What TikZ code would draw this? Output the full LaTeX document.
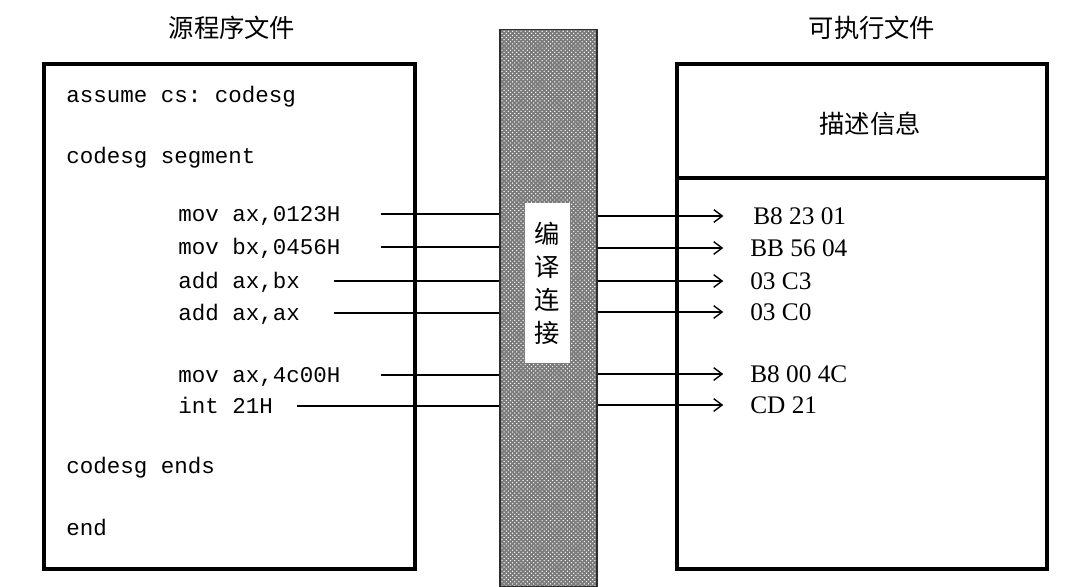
\documentclass[tikz,border=0pt]{standalone}
\usepackage{fontspec}
\setmainfont{Liberation Serif}
\setmonofont{Liberation Mono}
\newfontfamily\cjk{Noto Sans CJK SC}
\usetikzlibrary{arrows.meta,patterns}

\begin{document}
\begin{tikzpicture}[
    x=0.025cm, y=-0.025cm,
    filebox/.style={draw=black, line width=2.4pt, minimum width=9.25cm},
    code/.style={anchor=west, inner sep=0pt, text height=12pt, text depth=2pt,
                 font=\fontsize{16}{19}\selectfont\ttfamily},
    byte/.style={anchor=west, inner sep=0pt, text height=12pt, text depth=0pt,
                 font=\fontsize{18}{21}\selectfont},
    title/.style={font=\fontsize{18}{21}\selectfont\cjk},
    stripe/.style={draw=gray!35!black, line width=0.8pt,
                   preaction={fill=black!52}, pattern=crosshatch dots, pattern color=white,
                   minimum width=2.425cm, minimum height=13.9cm},
    feed/.style={line width=1.5pt},
    emit/.style={line width=1.5pt, shorten >=19pt,
                 -{Straight Barb[length=6pt, width=9pt, line width=1pt]}},
]
\useasboundingbox (0,0) rectangle (1079,586);

% ---- 标题 ----
\node[title] (srctitle) at (232,28) {源程序文件};
\node[title] (exetitle) at (872,28) {可执行文件};

% ---- 文件框 ----
\node[filebox, minimum width=9.275cm, minimum height=12.625cm] (src) at (229.5,316.5) {};
\node[filebox, minimum height=2.85cm] (info) at (862,121) {};
\node[filebox, minimum height=9.775cm] (body) at (862,373.5) {};
\node[title] (infotext) at (870,124) {描述信息};

% ---- 编译连接 ----
\node[stripe] (link) at (548.5,308) {};
\node[fill=white, minimum width=1.125cm, minimum height=4cm, align=center,
      font=\fontsize{18}{23.5}\selectfont\cjk] (linklbl) at (547.5,283) {编\\译\\连\\接};

% ---- 源程序 ----
\node[code] (l1) at (66,95)  {assume cs: codesg};
\node[code] (l2) at (66,156) {codesg segment};
\node[code] (m1) at (178,214) {mov ax,0123H};
\node[code] (m2) at (178,247) {mov bx,0456H};
\node[code] (m3) at (178,281) {add ax,bx};
\node[code] (m4) at (178,313) {add ax,ax};
\node[code] (m5) at (178,375) {mov ax,4c00H};
\node[code] (m6) at (178,406) {int 21H};
\node[code] (l3) at (66,466) {codesg ends};
\node[code] (l4) at (66,528) {end};

% ---- 机器码 ----
\node[byte] (b1) at (753,216) {B8 23 01};
\node[byte] (b2) at (750,248) {BB 56 04};
\node[byte] (b3) at (750,281) {03 C3};
\node[byte] (b4) at (750,312) {03 C0};
\node[byte] (b5) at (750,374) {B8 00 4C};
\node[byte] (b6) at (750,405) {CD 21};

% ---- 连线 ----
\draw[feed] ([xshift=1cm]m1.east)    -- (m1.east -| link.west);
\draw[feed] ([xshift=1cm]m2.east)    -- (m2.east -| link.west);
\draw[feed] ([xshift=0.85cm]m3.east) -- (m3.east -| link.west);
\draw[feed] ([xshift=0.85cm]m4.east) -- (m4.east -| link.west);
\draw[feed] ([xshift=1cm]m5.east)    -- (m5.east -| link.west);
\draw[feed] ([xshift=0.6cm]m6.east)  -- (m6.east -| link.west);

\draw[emit, shorten >=21pt] (b1.west -| link.east) -- (b1.west);
\draw[emit] (b2.west -| link.east) -- (b2.west);
\draw[emit] (b3.west -| link.east) -- (b3.west);
\draw[emit] (b4.west -| link.east) -- (b4.west);
\draw[emit] (b5.west -| link.east) -- (b5.west);
\draw[emit] (b6.west -| link.east) -- (b6.west);

\end{tikzpicture}
\end{document}
